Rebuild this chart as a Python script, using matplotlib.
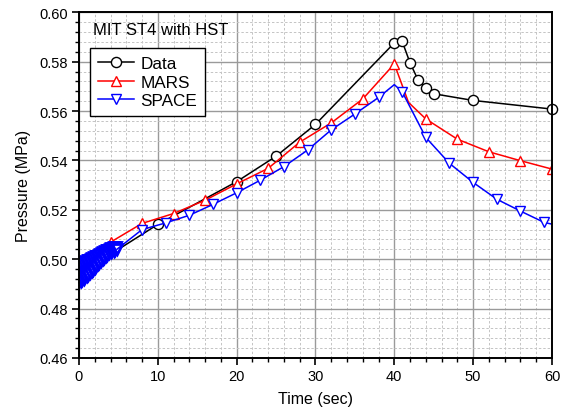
import matplotlib
matplotlib.use('Agg')
import matplotlib.pyplot as plt

plt.rcParams['font.family'] = ['Liberation Sans', 'DejaVu Sans']

# Experimental data
data_t = [0, 5, 10, 20, 25, 30, 40, 41, 42, 43, 44, 45, 50, 60]
data_p = [0.4905, 0.5040, 0.5141, 0.5314, 0.5417, 0.5546, 0.5876, 0.5882,
          0.5795, 0.5727, 0.5693, 0.5670, 0.5643, 0.5608]
data_marks = [2, 3, 4, 5, 6, 7, 8, 9, 10, 11, 12, 13]

# MARS calculation
mars_t = [0, 4, 8, 12, 16, 20, 24, 28, 32, 36, 40, 41.8, 44, 48, 52, 56, 60]
mars_p = [0.4925, 0.5069, 0.5145, 0.5185, 0.5239, 0.5305, 0.5368, 0.5474,
          0.5552, 0.5649, 0.5791, 0.5635, 0.5568, 0.5486, 0.5435, 0.5399, 0.5365]
mars_marks = [0, 1, 2, 3, 4, 5, 6, 7, 8, 9, 10, 12, 13, 14, 15, 16]

# SPACE calculation: dense, oscillating output during the first seconds
space0_t = [0.0, 0.1, 0.2, 0.3, 0.4, 0.5, 0.6, 0.7, 0.8, 0.9, 1.0, 1.1, 1.2,
            1.3, 1.4, 1.5, 1.6, 1.7, 1.8, 1.9, 2.0, 2.1, 2.2, 2.3, 2.4, 2.5,
            2.6, 2.7, 2.8, 2.9, 3.0, 3.1, 3.2, 3.3, 3.4, 3.5, 3.6, 3.7, 3.8,
            3.9, 4.0, 4.1, 4.2, 4.3, 4.4, 4.5, 4.6, 4.7, 4.8]
space0_p = [0.4907, 0.4979, 0.4911, 0.4982, 0.4916, 0.4985, 0.4920, 0.4988,
            0.4926, 0.4991, 0.4931, 0.4995, 0.4938, 0.4998, 0.4945, 0.5002,
            0.4951, 0.5005, 0.4958, 0.5008, 0.4965, 0.5012, 0.4972, 0.5015,
            0.4979, 0.5019, 0.4985, 0.5022, 0.4992, 0.5026, 0.4999, 0.5030,
            0.5005, 0.5033, 0.5012, 0.5037, 0.5018, 0.5039, 0.5024, 0.5042,
            0.5030, 0.5044, 0.5033, 0.5046, 0.5035, 0.5048, 0.5037, 0.5049,
            0.5040]
# SPACE calculation: remainder of the transient
space_t = [4.8, 8, 11, 14, 17, 20, 23, 26, 29, 32, 35, 38, 40, 41, 44, 47,
           50, 53, 56, 59, 60]
space_p = [0.5040, 0.5120, 0.5147, 0.5178, 0.5222, 0.5269, 0.5320, 0.5375,
           0.5442, 0.5524, 0.5588, 0.5655, 0.5707, 0.5678, 0.5493, 0.5388,
           0.5311, 0.5243, 0.5195, 0.5149, 0.5142]
space_marks = [i for i in range(1, len(space_t)) if space_t[i] not in (40, 60)]

fig = plt.figure(figsize=(5.63, 4.14), dpi=100)
ax = fig.add_axes([0.1403, 0.1329, 0.8401, 0.835])

ax.plot(data_t, data_p, '-o', color='black', lw=1.1, ms=7.3, mfc='white',
        mec='black', mew=1.0, markevery=data_marks, label='Data', clip_on=False)
ax.plot(mars_t, mars_p, '-^', color='red', lw=1.1, ms=7.5, mfc='white',
        mec='red', mew=1.0, markevery=mars_marks, label='MARS')
ax.plot(space0_t, space0_p, '-v', color='blue', lw=1.1, ms=7.5, mfc='white',
        mec='blue', mew=2.0)
ax.plot(space_t, space_p, '-v', color='blue', lw=1.1, ms=7.5, mfc='white',
        mec='blue', mew=1.0, markevery=space_marks, label='SPACE')

ax.set_xlim(0, 60)
ax.set_ylim(0.46, 0.60)
ax.set_xticks([0, 10, 20, 30, 40, 50, 60])
ax.set_xticks(range(0, 61, 2), minor=True)
ax.set_yticks([0.46, 0.48, 0.50, 0.52, 0.54, 0.56, 0.58, 0.60])
ax.set_yticks([0.46 + 0.004 * i for i in range(36)], minor=True)
ax.set_yticklabels(['0.46', '0.48', '0.50', '0.52', '0.54', '0.56', '0.58', '0.60'])

ax.grid(which='major', color='#9a9a9a', lw=1.0, ls='-')
ax.grid(which='minor', color='#c4c4c4', lw=0.7, ls=(0, (2.5, 2)))
ax.set_axisbelow(True)

ax.tick_params(which='major', direction='out', length=5, width=1.2,
               labelsize=10.5, top=False, right=False, colors='black', pad=3)
ax.tick_params(which='minor', direction='out', length=3, width=1.0,
               top=False, right=False)
for s in ax.spines.values():
    s.set_linewidth(1.4)

ax.set_xlabel('Time (sec)', fontsize=11.5, labelpad=6)
ax.set_ylabel('Pressure (MPa)', fontsize=11.5, labelpad=6)

ax.text(0.0305, 0.949, 'MIT ST4 with HST', transform=ax.transAxes,
        fontsize=12, va='center', ha='left')

leg = ax.legend(loc='upper left', bbox_to_anchor=(0.0233, 0.896), fontsize=12.3,
                handlelength=2.15, handletextpad=0.35, labelspacing=0.22,
                borderpad=0.45, borderaxespad=0, fancybox=False,
                edgecolor='black', framealpha=1)
leg.get_frame().set_linewidth(1.0)

fig.savefig('out.png', dpi=100)
